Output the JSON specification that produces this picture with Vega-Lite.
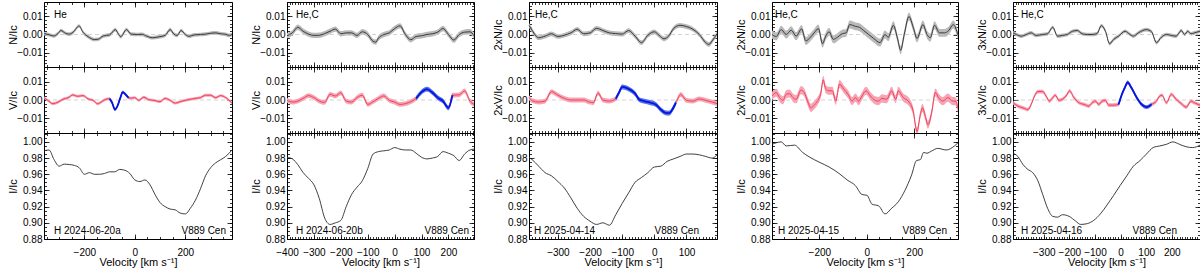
{
"$schema": "https://vega.github.io/schema/vega-lite/v6.json",
"padding": {"left": 6, "top": 1, "right": 0, "bottom": 0},
"background": "white",
"datasets": {
"L": [{"p":1,"t":"He","d":"H 2024-06-20a","s":"V889 Cen"},{"p":2,"t":"He,C","d":"H 2024-06-20b","s":"V889 Cen"},{"p":3,"t":"He,C","d":"H 2025-04-14","s":"V889 Cen"},{"p":4,"t":"He,C","d":"H 2025-04-15","s":"V889 Cen"},{"p":5,"t":"He,C","d":"H 2025-04-16","s":"V889 Cen"}],
"N": [
{"p":1,"v":-360,"y":0.0005,"e":0.001},{"p":1,"v":-340,"y":-0.0001,"e":0.001},{"p":1,"v":-322,"y":-0.0008,"e":0.001},{"p":1,"v":-305,"y":0.0005,"e":0.001},{"p":1,"v":-293,"y":0.0022,"e":0.001},{"p":1,"v":-275,"y":0.0007,"e":0.001},{"p":1,"v":-260,"y":0.0002,"e":0.001},{"p":1,"v":-245,"y":0.0012,"e":0.001},{"p":1,"v":-221,"y":0.0047,"e":0.001},{"p":1,"v":-205,"y":0.0012,"e":0.001},{"p":1,"v":-185,"y":-0.0012,"e":0.001},{"p":1,"v":-160,"y":-0.0028,"e":0.001},{"p":1,"v":-145,"y":-0.0026,"e":0.001},{"p":1,"v":-125,"y":-0.0008,"e":0.001},{"p":1,"v":-100,"y":-0.0002,"e":0.001},{"p":1,"v":-77,"y":0.0027,"e":0.001},{"p":1,"v":-66,"y":0.0005,"e":0.001},{"p":1,"v":-56,"y":-0.0012,"e":0.001},{"p":1,"v":-33,"y":0.0027,"e":0.001},{"p":1,"v":-15,"y":0.0002,"e":0.001},{"p":1,"v":10,"y":0,"e":0.001},{"p":1,"v":30,"y":0.0001,"e":0.001},{"p":1,"v":45,"y":-0.0008,"e":0.001},{"p":1,"v":70,"y":-0.0018,"e":0.001},{"p":1,"v":95,"y":-0.0013,"e":0.001},{"p":1,"v":120,"y":-0.0005,"e":0.001},{"p":1,"v":140,"y":0.0027,"e":0.001},{"p":1,"v":155,"y":0.0002,"e":0.001},{"p":1,"v":168,"y":-0.0005,"e":0.001},{"p":1,"v":183,"y":0.0022,"e":0.001},{"p":1,"v":200,"y":0,"e":0.001},{"p":1,"v":215,"y":-0.001,"e":0.001},{"p":1,"v":235,"y":-0.0002,"e":0.001},{"p":1,"v":260,"y":0,"e":0.001},{"p":1,"v":280,"y":0.0002,"e":0.001},{"p":1,"v":300,"y":0.0007,"e":0.001},{"p":1,"v":320,"y":0.0009,"e":0.001},{"p":1,"v":340,"y":0.0004,"e":0.001},{"p":1,"v":360,"y":0.0001,"e":0.001},{"p":1,"v":375,"y":-0.0005,"e":0.001},{"p":1,"v":385,"y":0,"e":0.001},
{"p":2,"v":-400,"y":-0.0007,"e":0.0015},{"p":2,"v":-380,"y":0.0009,"e":0.0015},{"p":2,"v":-360,"y":0.004,"e":0.0015},{"p":2,"v":-340,"y":0.0018,"e":0.0015},{"p":2,"v":-320,"y":0.0002,"e":0.0015},{"p":2,"v":-300,"y":-0.0005,"e":0.0015},{"p":2,"v":-280,"y":-0.0004,"e":0.0015},{"p":2,"v":-260,"y":0.0005,"e":0.0015},{"p":2,"v":-240,"y":0.0018,"e":0.0015},{"p":2,"v":-220,"y":0.003,"e":0.0015},{"p":2,"v":-200,"y":0.0004,"e":0.0015},{"p":2,"v":-180,"y":0.0009,"e":0.0015},{"p":2,"v":-160,"y":0.0009,"e":0.0015},{"p":2,"v":-140,"y":-0.0005,"e":0.0015},{"p":2,"v":-120,"y":0.0015,"e":0.0015},{"p":2,"v":-100,"y":0,"e":0.0015},{"p":2,"v":-80,"y":-0.0038,"e":0.0015},{"p":2,"v":-70,"y":-0.0042,"e":0.0015},{"p":2,"v":-60,"y":-0.002,"e":0.0015},{"p":2,"v":-40,"y":0,"e":0.0015},{"p":2,"v":-20,"y":0.0009,"e":0.0015},{"p":2,"v":0,"y":0.0033,"e":0.0015},{"p":2,"v":20,"y":0.0048,"e":0.0015},{"p":2,"v":40,"y":0,"e":0.0015},{"p":2,"v":60,"y":-0.0029,"e":0.0015},{"p":2,"v":80,"y":-0.0011,"e":0.0015},{"p":2,"v":100,"y":-0.0007,"e":0.0015},{"p":2,"v":120,"y":0,"e":0.0015},{"p":2,"v":140,"y":0.0004,"e":0.0015},{"p":2,"v":160,"y":0.0013,"e":0.0015},{"p":2,"v":180,"y":0.0033,"e":0.0015},{"p":2,"v":200,"y":0,"e":0.0015},{"p":2,"v":220,"y":-0.0031,"e":0.0015},{"p":2,"v":240,"y":0,"e":0.0015},{"p":2,"v":260,"y":0.0013,"e":0.0015},{"p":2,"v":280,"y":0.0015,"e":0.0015},{"p":2,"v":295,"y":-0.0007,"e":0.0015},
{"p":3,"v":-390,"y":0.0051,"e":0.0013},{"p":3,"v":-380,"y":0.0022,"e":0.0013},{"p":3,"v":-360,"y":-0.0018,"e":0.0013},{"p":3,"v":-340,"y":-0.0009,"e":0.0013},{"p":3,"v":-320,"y":0.0004,"e":0.0013},{"p":3,"v":-300,"y":-0.0011,"e":0.0013},{"p":3,"v":-280,"y":-0.0004,"e":0.0013},{"p":3,"v":-260,"y":0.0009,"e":0.0013},{"p":3,"v":-240,"y":0.0029,"e":0.0013},{"p":3,"v":-220,"y":0.0004,"e":0.0013},{"p":3,"v":-200,"y":0.0009,"e":0.0013},{"p":3,"v":-180,"y":0.0034,"e":0.0013},{"p":3,"v":-160,"y":0.0022,"e":0.0013},{"p":3,"v":-140,"y":0.0009,"e":0.0013},{"p":3,"v":-120,"y":0.0005,"e":0.0013},{"p":3,"v":-100,"y":0.0002,"e":0.0013},{"p":3,"v":-80,"y":0.0022,"e":0.0013},{"p":3,"v":-60,"y":-0.0009,"e":0.0013},{"p":3,"v":-40,"y":-0.0045,"e":0.0013},{"p":3,"v":-20,"y":-0.0004,"e":0.0013},{"p":3,"v":0,"y":0.0015,"e":0.0013},{"p":3,"v":15,"y":-0.0005,"e":0.0013},{"p":3,"v":30,"y":-0.0024,"e":0.0013},{"p":3,"v":45,"y":-0.0008,"e":0.0013},{"p":3,"v":60,"y":0.0033,"e":0.0013},{"p":3,"v":80,"y":0.0051,"e":0.0013},{"p":3,"v":100,"y":0.0044,"e":0.0013},{"p":3,"v":120,"y":0.0029,"e":0.0013},{"p":3,"v":140,"y":0,"e":0.0013},{"p":3,"v":160,"y":-0.0045,"e":0.0013},{"p":3,"v":170,"y":-0.0055,"e":0.0013},{"p":3,"v":180,"y":-0.0035,"e":0.0013},{"p":3,"v":195,"y":0.0004,"e":0.0013},
{"p":4,"v":-400,"y":0,"e":0.0022},{"p":4,"v":-382,"y":-0.0011,"e":0.0022},{"p":4,"v":-361,"y":0.0027,"e":0.0022},{"p":4,"v":-340,"y":0,"e":0.0022},{"p":4,"v":-319,"y":0.0024,"e":0.0022},{"p":4,"v":-298,"y":-0.0009,"e":0.0022},{"p":4,"v":-275,"y":0.0031,"e":0.0022},{"p":4,"v":-257,"y":-0.0036,"e":0.0022},{"p":4,"v":-240,"y":-0.0018,"e":0.0022},{"p":4,"v":-222,"y":0.0009,"e":0.0022},{"p":4,"v":-204,"y":0.0033,"e":0.0022},{"p":4,"v":-187,"y":-0.0051,"e":0.0022},{"p":4,"v":-173,"y":-0.0009,"e":0.0022},{"p":4,"v":-159,"y":0.0015,"e":0.0022},{"p":4,"v":-141,"y":-0.0027,"e":0.0022},{"p":4,"v":-124,"y":-0.0015,"e":0.0022},{"p":4,"v":-104,"y":0.0004,"e":0.0022},{"p":4,"v":-87,"y":0.0009,"e":0.0022},{"p":4,"v":-72,"y":0.0055,"e":0.0022},{"p":4,"v":-48,"y":0.0045,"e":0.0022},{"p":4,"v":-31,"y":0.004,"e":0.0022},{"p":4,"v":-13,"y":0.0022,"e":0.0022},{"p":4,"v":8,"y":0,"e":0.0022},{"p":4,"v":29,"y":-0.0022,"e":0.0022},{"p":4,"v":56,"y":-0.0045,"e":0.0022},{"p":4,"v":77,"y":0,"e":0.0022},{"p":4,"v":91,"y":-0.0015,"e":0.0022},{"p":4,"v":112,"y":0.0051,"e":0.0022},{"p":4,"v":129,"y":-0.0018,"e":0.0022},{"p":4,"v":143,"y":-0.0087,"e":0.0022},{"p":4,"v":158,"y":0,"e":0.0022},{"p":4,"v":178,"y":0.01,"e":0.0022},{"p":4,"v":196,"y":0.004,"e":0.0022},{"p":4,"v":212,"y":-0.0022,"e":0.0022},{"p":4,"v":237,"y":0.0055,"e":0.0022},{"p":4,"v":254,"y":0,"e":0.0022},{"p":4,"v":268,"y":-0.0018,"e":0.0022},{"p":4,"v":286,"y":0.0051,"e":0.0022},{"p":4,"v":307,"y":0.0009,"e":0.0022},{"p":4,"v":328,"y":0.0009,"e":0.0022},{"p":4,"v":346,"y":0.0022,"e":0.0022},{"p":4,"v":365,"y":0.0055,"e":0.0022},{"p":4,"v":385,"y":-0.0004,"e":0.0022},
{"p":5,"v":-420,"y":0.0009,"e":0.001},{"p":5,"v":-407,"y":0,"e":0.001},{"p":5,"v":-388,"y":-0.0009,"e":0.001},{"p":5,"v":-368,"y":0,"e":0.001},{"p":5,"v":-349,"y":0.0009,"e":0.001},{"p":5,"v":-330,"y":-0.0005,"e":0.001},{"p":5,"v":-304,"y":0,"e":0.001},{"p":5,"v":-285,"y":0.0004,"e":0.001},{"p":5,"v":-265,"y":0.004,"e":0.001},{"p":5,"v":-246,"y":-0.0009,"e":0.001},{"p":5,"v":-227,"y":-0.0005,"e":0.001},{"p":5,"v":-208,"y":0,"e":0.001},{"p":5,"v":-188,"y":0.0018,"e":0.001},{"p":5,"v":-169,"y":0.0022,"e":0.001},{"p":5,"v":-150,"y":0.0004,"e":0.001},{"p":5,"v":-130,"y":0,"e":0.001},{"p":5,"v":-111,"y":0,"e":0.001},{"p":5,"v":-92,"y":0.0005,"e":0.001},{"p":5,"v":-75,"y":0.0049,"e":0.001},{"p":5,"v":-59,"y":0.0018,"e":0.001},{"p":5,"v":-43,"y":-0.0051,"e":0.001},{"p":5,"v":-27,"y":-0.0027,"e":0.001},{"p":5,"v":-8,"y":-0.0009,"e":0.001},{"p":5,"v":18,"y":0.0018,"e":0.001},{"p":5,"v":37,"y":0,"e":0.001},{"p":5,"v":50,"y":-0.0009,"e":0.001},{"p":5,"v":69,"y":0.0009,"e":0.001},{"p":5,"v":101,"y":0.0027,"e":0.001},{"p":5,"v":121,"y":0.0015,"e":0.001},{"p":5,"v":140,"y":-0.0045,"e":0.001},{"p":5,"v":159,"y":-0.0015,"e":0.001},{"p":5,"v":179,"y":0,"e":0.001},{"p":5,"v":198,"y":-0.0005,"e":0.001},{"p":5,"v":217,"y":-0.0009,"e":0.001},{"p":5,"v":237,"y":0.0022,"e":0.001},{"p":5,"v":250,"y":0,"e":0.001},{"p":5,"v":262,"y":0.0018,"e":0.001},{"p":5,"v":275,"y":0.0004,"e":0.001},{"p":5,"v":288,"y":0.0009,"e":0.001},{"p":5,"v":310,"y":0.0018,"e":0.001}
],
"V": [
{"p":1,"v":-360,"y":0.0013,"e":0.0008},{"p":1,"v":-345,"y":-0.0002,"e":0.0008},{"p":1,"v":-325,"y":-0.002,"e":0.0008},{"p":1,"v":-305,"y":-0.0012,"e":0.0008},{"p":1,"v":-285,"y":0.0004,"e":0.0008},{"p":1,"v":-265,"y":0.0012,"e":0.0008},{"p":1,"v":-245,"y":0.0028,"e":0.0008},{"p":1,"v":-228,"y":0.002,"e":0.0008},{"p":1,"v":-205,"y":0.0024,"e":0.0008},{"p":1,"v":-185,"y":0.0006,"e":0.0008},{"p":1,"v":-165,"y":-0.0002,"e":0.0008},{"p":1,"v":-148,"y":-0.002,"e":0.0008},{"p":1,"v":-130,"y":-0.0008,"e":0.0008},{"p":1,"v":-115,"y":0.0004,"e":0.0008},{"p":1,"v":-100,"y":0.0007,"e":0.0008,"b":1},{"p":1,"v":-90,"y":-0.0015,"e":0.0008,"b":1},{"p":1,"v":-79,"y":-0.0052,"e":0.0008,"b":1},{"p":1,"v":-68,"y":-0.003,"e":0.0008,"b":1},{"p":1,"v":-58,"y":0.001,"e":0.0008,"b":1},{"p":1,"v":-48,"y":0.0043,"e":0.0008,"b":1},{"p":1,"v":-38,"y":0.0032,"e":0.0008,"b":1},{"p":1,"v":-25,"y":0.0012,"e":0.0008,"b":1},{"p":1,"v":-15,"y":0.001,"e":0.0008},{"p":1,"v":0,"y":0.0013,"e":0.0008},{"p":1,"v":15,"y":-0.0002,"e":0.0008},{"p":1,"v":35,"y":0.0015,"e":0.0008},{"p":1,"v":55,"y":0.0002,"e":0.0008},{"p":1,"v":75,"y":-0.0002,"e":0.0008},{"p":1,"v":100,"y":-0.0009,"e":0.0008},{"p":1,"v":120,"y":0.0009,"e":0.0008},{"p":1,"v":140,"y":-0.0002,"e":0.0008},{"p":1,"v":160,"y":-0.0017,"e":0.0008},{"p":1,"v":180,"y":-0.0009,"e":0.0008},{"p":1,"v":200,"y":-0.0002,"e":0.0008},{"p":1,"v":220,"y":0.0004,"e":0.0008},{"p":1,"v":240,"y":0.0009,"e":0.0008},{"p":1,"v":260,"y":0.0013,"e":0.0008},{"p":1,"v":280,"y":0.0026,"e":0.0008},{"p":1,"v":300,"y":0.0026,"e":0.0008},{"p":1,"v":320,"y":0.0013,"e":0.0008},{"p":1,"v":340,"y":0.0024,"e":0.0008},{"p":1,"v":360,"y":0.0013,"e":0.0008},{"p":1,"v":385,"y":-0.0017,"e":0.0008},
{"p":2,"v":-400,"y":-0.0002,"e":0.0013},{"p":2,"v":-380,"y":-0.0011,"e":0.0013},{"p":2,"v":-360,"y":-0.0006,"e":0.0013},{"p":2,"v":-340,"y":0.0009,"e":0.0013},{"p":2,"v":-320,"y":0.0024,"e":0.0013},{"p":2,"v":-300,"y":0.0013,"e":0.0013},{"p":2,"v":-280,"y":-0.0006,"e":0.0013},{"p":2,"v":-260,"y":-0.0013,"e":0.0013},{"p":2,"v":-240,"y":0.0031,"e":0.0013},{"p":2,"v":-220,"y":0.0022,"e":0.0013},{"p":2,"v":-200,"y":0.0039,"e":0.0013},{"p":2,"v":-180,"y":-0.0006,"e":0.0013},{"p":2,"v":-160,"y":-0.0011,"e":0.0013},{"p":2,"v":-140,"y":0.0013,"e":0.0013},{"p":2,"v":-120,"y":0.0026,"e":0.0013},{"p":2,"v":-100,"y":-0.0024,"e":0.0013},{"p":2,"v":-80,"y":-0.0009,"e":0.0013},{"p":2,"v":-60,"y":0.0009,"e":0.0013},{"p":2,"v":-40,"y":0.0022,"e":0.0013},{"p":2,"v":-20,"y":-0.0002,"e":0.0013},{"p":2,"v":0,"y":-0.0011,"e":0.0013},{"p":2,"v":20,"y":-0.0024,"e":0.0013},{"p":2,"v":40,"y":-0.002,"e":0.0013},{"p":2,"v":60,"y":-0.0009,"e":0.0013},{"p":2,"v":80,"y":0.0009,"e":0.0013,"b":1},{"p":2,"v":100,"y":0.0043,"e":0.0013,"b":1},{"p":2,"v":120,"y":0.0059,"e":0.0013,"b":1},{"p":2,"v":140,"y":0.0041,"e":0.0013,"b":1},{"p":2,"v":160,"y":0.0013,"e":0.0013,"b":1},{"p":2,"v":180,"y":-0.0006,"e":0.0013,"b":1},{"p":2,"v":200,"y":-0.0043,"e":0.0013,"b":1},{"p":2,"v":215,"y":0.0026,"e":0.0013,"b":1},{"p":2,"v":240,"y":0.0028,"e":0.0013},{"p":2,"v":260,"y":0.005,"e":0.0013},{"p":2,"v":280,"y":-0.0006,"e":0.0013},{"p":2,"v":295,"y":-0.0024,"e":0.0013},
{"p":3,"v":-390,"y":0.0013,"e":0.0013},{"p":3,"v":-380,"y":-0.0004,"e":0.0013},{"p":3,"v":-360,"y":-0.0011,"e":0.0013},{"p":3,"v":-340,"y":-0.0006,"e":0.0013},{"p":3,"v":-320,"y":0.0046,"e":0.0013},{"p":3,"v":-300,"y":0.0026,"e":0.0013},{"p":3,"v":-280,"y":0.0009,"e":0.0013},{"p":3,"v":-260,"y":0,"e":0.0013},{"p":3,"v":-240,"y":0,"e":0.0013},{"p":3,"v":-220,"y":0,"e":0.0013},{"p":3,"v":-200,"y":-0.0012,"e":0.0013},{"p":3,"v":-190,"y":-0.0015,"e":0.0013},{"p":3,"v":-175,"y":0.0038,"e":0.0013},{"p":3,"v":-160,"y":0,"e":0.0013},{"p":3,"v":-140,"y":-0.0006,"e":0.0013},{"p":3,"v":-120,"y":0.0007,"e":0.0013,"b":1},{"p":3,"v":-110,"y":0.004,"e":0.0013,"b":1},{"p":3,"v":-100,"y":0.0072,"e":0.0013,"b":1},{"p":3,"v":-85,"y":0.0065,"e":0.0013,"b":1},{"p":3,"v":-70,"y":0.005,"e":0.0013,"b":1},{"p":3,"v":-58,"y":0.0031,"e":0.0013,"b":1},{"p":3,"v":-48,"y":0.0004,"e":0.0013,"b":1},{"p":3,"v":-32,"y":-0.0006,"e":0.0013,"b":1},{"p":3,"v":-11,"y":-0.0015,"e":0.0013,"b":1},{"p":3,"v":4,"y":-0.0024,"e":0.0013,"b":1},{"p":3,"v":20,"y":-0.0052,"e":0.0013,"b":1},{"p":3,"v":35,"y":-0.007,"e":0.0013,"b":1},{"p":3,"v":46,"y":-0.0072,"e":0.0013,"b":1},{"p":3,"v":56,"y":-0.0052,"e":0.0013,"b":1},{"p":3,"v":67,"y":-0.0015,"e":0.0013,"b":1},{"p":3,"v":82,"y":0.003,"e":0.0013},{"p":3,"v":100,"y":-0.0002,"e":0.0013},{"p":3,"v":120,"y":-0.0006,"e":0.0013},{"p":3,"v":140,"y":0.0006,"e":0.0013},{"p":3,"v":160,"y":-0.0002,"e":0.0013},{"p":3,"v":180,"y":-0.0011,"e":0.0013},{"p":3,"v":195,"y":-0.002,"e":0.0013},
{"p":4,"v":-400,"y":0.0022,"e":0.0022},{"p":4,"v":-382,"y":0.004,"e":0.0022},{"p":4,"v":-368,"y":0.0013,"e":0.0022},{"p":4,"v":-354,"y":-0.0002,"e":0.0022},{"p":4,"v":-340,"y":0.0031,"e":0.0022},{"p":4,"v":-326,"y":0.0035,"e":0.0022},{"p":4,"v":-312,"y":0.0013,"e":0.0022},{"p":4,"v":-298,"y":0.0004,"e":0.0022},{"p":4,"v":-278,"y":0.0054,"e":0.0022},{"p":4,"v":-264,"y":0.0041,"e":0.0022},{"p":4,"v":-250,"y":-0.0006,"e":0.0022},{"p":4,"v":-236,"y":-0.0043,"e":0.0022},{"p":4,"v":-222,"y":-0.0028,"e":0.0022},{"p":4,"v":-208,"y":-0.0006,"e":0.0022},{"p":4,"v":-194,"y":0.0035,"e":0.0022},{"p":4,"v":-184,"y":0.011,"e":0.0022},{"p":4,"v":-173,"y":0.0059,"e":0.0022},{"p":4,"v":-159,"y":0.005,"e":0.0022},{"p":4,"v":-145,"y":0.005,"e":0.0022},{"p":4,"v":-131,"y":-0.0006,"e":0.0022},{"p":4,"v":-115,"y":0.0087,"e":0.0022},{"p":4,"v":-97,"y":0.0059,"e":0.0022},{"p":4,"v":-79,"y":0.0031,"e":0.0022},{"p":4,"v":-62,"y":-0.0006,"e":0.0022},{"p":4,"v":-48,"y":0.0013,"e":0.0022},{"p":4,"v":-34,"y":-0.0006,"e":0.0022},{"p":4,"v":-20,"y":0.0022,"e":0.0022},{"p":4,"v":-3,"y":0.005,"e":0.0022},{"p":4,"v":15,"y":0.0022,"e":0.0022},{"p":4,"v":36,"y":-0.0002,"e":0.0022},{"p":4,"v":50,"y":-0.0006,"e":0.0022},{"p":4,"v":63,"y":0.0009,"e":0.0022},{"p":4,"v":84,"y":0.0004,"e":0.0022},{"p":4,"v":105,"y":0.005,"e":0.0022},{"p":4,"v":122,"y":0.0004,"e":0.0022},{"p":4,"v":133,"y":0.005,"e":0.0022},{"p":4,"v":154,"y":0.0013,"e":0.0022},{"p":4,"v":175,"y":-0.0006,"e":0.0022},{"p":4,"v":196,"y":-0.0061,"e":0.0022},{"p":4,"v":212,"y":-0.0172,"e":0.0022},{"p":4,"v":226,"y":-0.008,"e":0.0022},{"p":4,"v":235,"y":-0.0043,"e":0.0022},{"p":4,"v":247,"y":-0.0089,"e":0.0022},{"p":4,"v":258,"y":-0.0135,"e":0.0022},{"p":4,"v":275,"y":-0.0061,"e":0.0022},{"p":4,"v":289,"y":0.0041,"e":0.0022},{"p":4,"v":303,"y":0.0013,"e":0.0022},{"p":4,"v":321,"y":-0.0006,"e":0.0022},{"p":4,"v":342,"y":0.0013,"e":0.0022},{"p":4,"v":363,"y":-0.0006,"e":0.0022},{"p":4,"v":374,"y":-0.0006,"e":0.0022},{"p":4,"v":385,"y":-0.0046,"e":0.0022},
{"p":5,"v":-420,"y":-0.0015,"e":0.001},{"p":5,"v":-401,"y":-0.0033,"e":0.001},{"p":5,"v":-381,"y":-0.0043,"e":0.001},{"p":5,"v":-362,"y":-0.0052,"e":0.001},{"p":5,"v":-349,"y":-0.0024,"e":0.001},{"p":5,"v":-336,"y":0.0022,"e":0.001},{"p":5,"v":-323,"y":0.0046,"e":0.001},{"p":5,"v":-304,"y":0.0046,"e":0.001},{"p":5,"v":-291,"y":0.0022,"e":0.001},{"p":5,"v":-278,"y":-0.0006,"e":0.001},{"p":5,"v":-265,"y":0.0013,"e":0.001},{"p":5,"v":-255,"y":0.0026,"e":0.001},{"p":5,"v":-240,"y":-0.0002,"e":0.001},{"p":5,"v":-227,"y":0.0004,"e":0.001},{"p":5,"v":-211,"y":0.0026,"e":0.001},{"p":5,"v":-199,"y":0.005,"e":0.001},{"p":5,"v":-182,"y":0.0013,"e":0.001},{"p":5,"v":-162,"y":-0.0015,"e":0.001},{"p":5,"v":-143,"y":-0.0024,"e":0.001},{"p":5,"v":-124,"y":-0.0033,"e":0.001},{"p":5,"v":-111,"y":-0.0015,"e":0.001},{"p":5,"v":-98,"y":-0.0006,"e":0.001},{"p":5,"v":-85,"y":-0.0024,"e":0.001},{"p":5,"v":-72,"y":-0.0006,"e":0.001},{"p":5,"v":-59,"y":-0.0002,"e":0.001},{"p":5,"v":-47,"y":-0.0028,"e":0.001},{"p":5,"v":-27,"y":-0.0028,"e":0.001},{"p":5,"v":-8,"y":-0.0024,"e":0.001,"b":1},{"p":5,"v":5,"y":0.0031,"e":0.001,"b":1},{"p":5,"v":18,"y":0.0072,"e":0.001,"b":1},{"p":5,"v":27,"y":0.0096,"e":0.001,"b":1},{"p":5,"v":43,"y":0.0065,"e":0.001,"b":1},{"p":5,"v":63,"y":0.0013,"e":0.001,"b":1},{"p":5,"v":82,"y":-0.0024,"e":0.001,"b":1},{"p":5,"v":101,"y":-0.0039,"e":0.001,"b":1},{"p":5,"v":121,"y":-0.0024,"e":0.001,"b":1},{"p":5,"v":140,"y":-0.0006,"e":0.001},{"p":5,"v":153,"y":0.0022,"e":0.001},{"p":5,"v":162,"y":0.0026,"e":0.001},{"p":5,"v":179,"y":-0.0015,"e":0.001},{"p":5,"v":198,"y":0.0031,"e":0.001},{"p":5,"v":217,"y":0.0004,"e":0.001},{"p":5,"v":237,"y":-0.002,"e":0.001},{"p":5,"v":256,"y":-0.0039,"e":0.001},{"p":5,"v":275,"y":-0.0006,"e":0.001},{"p":5,"v":288,"y":-0.0015,"e":0.001},{"p":5,"v":310,"y":-0.0028,"e":0.001}
],
"I": [
{"p":1,"v":-360,"y":0.989},{"p":1,"v":-340,"y":0.99},{"p":1,"v":-320,"y":0.978},{"p":1,"v":-300,"y":0.97},{"p":1,"v":-280,"y":0.9725},{"p":1,"v":-260,"y":0.972},{"p":1,"v":-240,"y":0.971},{"p":1,"v":-220,"y":0.968},{"p":1,"v":-200,"y":0.96},{"p":1,"v":-180,"y":0.962},{"p":1,"v":-160,"y":0.96},{"p":1,"v":-140,"y":0.96},{"p":1,"v":-120,"y":0.961},{"p":1,"v":-100,"y":0.963},{"p":1,"v":-80,"y":0.963},{"p":1,"v":-60,"y":0.966},{"p":1,"v":-40,"y":0.965},{"p":1,"v":-20,"y":0.961},{"p":1,"v":0,"y":0.953},{"p":1,"v":20,"y":0.951},{"p":1,"v":40,"y":0.953},{"p":1,"v":60,"y":0.947},{"p":1,"v":80,"y":0.935},{"p":1,"v":100,"y":0.925},{"p":1,"v":120,"y":0.92},{"p":1,"v":140,"y":0.917},{"p":1,"v":160,"y":0.916},{"p":1,"v":180,"y":0.912},{"p":1,"v":200,"y":0.911},{"p":1,"v":220,"y":0.918},{"p":1,"v":240,"y":0.928},{"p":1,"v":260,"y":0.942},{"p":1,"v":280,"y":0.958},{"p":1,"v":300,"y":0.968},{"p":1,"v":320,"y":0.974},{"p":1,"v":340,"y":0.978},{"p":1,"v":360,"y":0.982},{"p":1,"v":385,"y":0.99},
{"p":2,"v":-400,"y":0.981},{"p":2,"v":-380,"y":0.979},{"p":2,"v":-360,"y":0.972},{"p":2,"v":-340,"y":0.962},{"p":2,"v":-320,"y":0.955},{"p":2,"v":-300,"y":0.947},{"p":2,"v":-280,"y":0.93},{"p":2,"v":-260,"y":0.906},{"p":2,"v":-240,"y":0.898},{"p":2,"v":-220,"y":0.9},{"p":2,"v":-200,"y":0.903},{"p":2,"v":-180,"y":0.92},{"p":2,"v":-160,"y":0.935},{"p":2,"v":-140,"y":0.944},{"p":2,"v":-120,"y":0.952},{"p":2,"v":-100,"y":0.967},{"p":2,"v":-80,"y":0.985},{"p":2,"v":-60,"y":0.988},{"p":2,"v":-40,"y":0.989},{"p":2,"v":-20,"y":0.99},{"p":2,"v":0,"y":0.993},{"p":2,"v":20,"y":0.991},{"p":2,"v":40,"y":0.99},{"p":2,"v":60,"y":0.99},{"p":2,"v":80,"y":0.986},{"p":2,"v":100,"y":0.981},{"p":2,"v":120,"y":0.979},{"p":2,"v":140,"y":0.98},{"p":2,"v":160,"y":0.982},{"p":2,"v":180,"y":0.988},{"p":2,"v":200,"y":0.986},{"p":2,"v":220,"y":0.983},{"p":2,"v":240,"y":0.977},{"p":2,"v":260,"y":0.985},{"p":2,"v":280,"y":0.99},{"p":2,"v":295,"y":0.991},
{"p":3,"v":-390,"y":0.981},{"p":3,"v":-380,"y":0.978},{"p":3,"v":-360,"y":0.97},{"p":3,"v":-340,"y":0.962},{"p":3,"v":-320,"y":0.958},{"p":3,"v":-300,"y":0.951},{"p":3,"v":-280,"y":0.943},{"p":3,"v":-260,"y":0.931},{"p":3,"v":-240,"y":0.918},{"p":3,"v":-220,"y":0.908},{"p":3,"v":-200,"y":0.902},{"p":3,"v":-180,"y":0.898},{"p":3,"v":-160,"y":0.9},{"p":3,"v":-140,"y":0.897},{"p":3,"v":-120,"y":0.91},{"p":3,"v":-100,"y":0.924},{"p":3,"v":-80,"y":0.937},{"p":3,"v":-60,"y":0.95},{"p":3,"v":-40,"y":0.956},{"p":3,"v":-20,"y":0.962},{"p":3,"v":0,"y":0.969},{"p":3,"v":20,"y":0.97},{"p":3,"v":40,"y":0.976},{"p":3,"v":60,"y":0.979},{"p":3,"v":80,"y":0.982},{"p":3,"v":100,"y":0.985},{"p":3,"v":120,"y":0.985},{"p":3,"v":140,"y":0.984},{"p":3,"v":160,"y":0.982},{"p":3,"v":180,"y":0.98},{"p":3,"v":195,"y":0.984},
{"p":4,"v":-400,"y":0.997},{"p":4,"v":-361,"y":1.0},{"p":4,"v":-340,"y":0.995},{"p":4,"v":-305,"y":0.996},{"p":4,"v":-271,"y":0.987},{"p":4,"v":-243,"y":0.9815},{"p":4,"v":-201,"y":0.975},{"p":4,"v":-159,"y":0.969},{"p":4,"v":-117,"y":0.961},{"p":4,"v":-83,"y":0.953},{"p":4,"v":-48,"y":0.946},{"p":4,"v":-20,"y":0.935},{"p":4,"v":1,"y":0.934},{"p":4,"v":22,"y":0.923},{"p":4,"v":50,"y":0.921},{"p":4,"v":77,"y":0.911},{"p":4,"v":105,"y":0.918},{"p":4,"v":133,"y":0.926},{"p":4,"v":161,"y":0.94},{"p":4,"v":189,"y":0.959},{"p":4,"v":210,"y":0.977},{"p":4,"v":226,"y":0.978},{"p":4,"v":240,"y":0.987},{"p":4,"v":254,"y":0.986},{"p":4,"v":272,"y":0.9885},{"p":4,"v":300,"y":0.992},{"p":4,"v":335,"y":0.99},{"p":4,"v":370,"y":0.995},{"p":4,"v":385,"y":0.999},
{"p":5,"v":-420,"y":0.986},{"p":5,"v":-401,"y":0.982},{"p":5,"v":-381,"y":0.972},{"p":5,"v":-362,"y":0.966},{"p":5,"v":-343,"y":0.962},{"p":5,"v":-323,"y":0.952},{"p":5,"v":-304,"y":0.935},{"p":5,"v":-285,"y":0.918},{"p":5,"v":-265,"y":0.908},{"p":5,"v":-246,"y":0.907},{"p":5,"v":-227,"y":0.91},{"p":5,"v":-201,"y":0.908},{"p":5,"v":-175,"y":0.902},{"p":5,"v":-156,"y":0.898},{"p":5,"v":-130,"y":0.899},{"p":5,"v":-105,"y":0.903},{"p":5,"v":-79,"y":0.911},{"p":5,"v":-53,"y":0.922},{"p":5,"v":-27,"y":0.934},{"p":5,"v":-2,"y":0.946},{"p":5,"v":24,"y":0.958},{"p":5,"v":50,"y":0.97},{"p":5,"v":76,"y":0.977},{"p":5,"v":101,"y":0.985},{"p":5,"v":127,"y":0.993},{"p":5,"v":153,"y":0.995},{"p":5,"v":179,"y":0.997},{"p":5,"v":204,"y":1.0},{"p":5,"v":230,"y":0.997},{"p":5,"v":256,"y":0.994},{"p":5,"v":282,"y":0.993},{"p":5,"v":310,"y":0.996}
]
},
"columns": 5,
"spacing": {"row": 0, "column": 55},
"bounds": "flush",
"align": "each",
"resolve": {"scale": {"x": "independent", "y": "independent"}, "axis": {"x": "independent", "y": "independent"}},
"concat": [
{"width":188,"height":65,"resolve":{"axis":{"x":"independent","y":"independent"}},"layer":[
{"data":{"name":"N"},"transform":[{"filter":"datum.p==1"}],"mark":{"type":"errorband","color":"#b9b9b9","opacity":1,"band":{"opacity":1},"interpolate":"monotone"},"encoding":{"x":{"field":"v","type":"quantitative","scale":{"domain":[-360,385],"nice":false},"axis":{"orient":"bottom","values":[-200,0,200],"labels":false,"title":null}},"y":{"field":"y","type":"quantitative","scale":{"domain":[-0.018,0.018],"nice":false},"axis":{"orient":"left","values":[-0.01,0,0.01],"format":".2f","title":"N/Ic"}},"yError":{"field":"e"}}},
{"data":{"values":[{}]},"mark":{"type":"rule","color":"#c8c8c8","strokeDash":[4,3],"strokeWidth":0.8},"encoding":{"y":{"datum":0,"type":"quantitative","scale":{"domain":[-0.018,0.018],"nice":false},"axis":null}}},
{"data":{"name":"N"},"transform":[{"filter":"datum.p==1"}],"mark":{"type":"line","color":"#3a3a3a","strokeWidth":1,"interpolate":"monotone"},"encoding":{"x":{"field":"v","type":"quantitative","scale":{"domain":[-360,385],"nice":false},"axis":{"orient":"top","values":[-200,0,200],"title":null}},"y":{"field":"y","type":"quantitative","scale":{"domain":[-0.018,0.018],"nice":false},"axis":{"orient":"right","values":[-0.01,0,0.01],"title":null}}}},
{"data":{"name":"N"},"transform":[{"filter":"datum.p==1"}],"mark":{"type":"line","opacity":0},"encoding":{"x":{"field":"v","type":"quantitative","scale":{"domain":[-360,385],"nice":false},"axis":{"orient":"bottom","tickCount":15,"labels":false,"title":null,"tickSize":-2.5}},"y":{"field":"y","type":"quantitative","scale":{"domain":[-0.018,0.018],"nice":false},"axis":{"orient":"left","tickCount":18,"labels":false,"title":null,"tickSize":-2.5}}}},
{"data":{"name":"N"},"transform":[{"filter":"datum.p==1"}],"mark":{"type":"line","opacity":0},"encoding":{"x":{"field":"v","type":"quantitative","scale":{"domain":[-360,385],"nice":false},"axis":{"orient":"top","tickCount":15,"title":null,"tickSize":-2.5}},"y":{"field":"y","type":"quantitative","scale":{"domain":[-0.018,0.018],"nice":false},"axis":{"orient":"right","tickCount":18,"title":null,"tickSize":-2.5}}}},
{"data":{"name":"L"},"transform":[{"filter":"datum.p==1"}],"mark":{"type":"text","align":"left","baseline":"middle","fontSize":10,"dx":10},"encoding":{"x":{"datum":-360,"type":"quantitative","scale":{"domain":[-360,385],"nice":false},"axis":null},"y":{"datum":0.011,"type":"quantitative","scale":{"domain":[-0.018,0.018],"nice":false},"axis":null},"text":{"field":"t"}}}
]},
{"width":187,"height":65,"resolve":{"axis":{"x":"independent","y":"independent"}},"layer":[
{"data":{"name":"N"},"transform":[{"filter":"datum.p==2"}],"mark":{"type":"errorband","color":"#b9b9b9","opacity":1,"band":{"opacity":1},"interpolate":"monotone"},"encoding":{"x":{"field":"v","type":"quantitative","scale":{"domain":[-400,295],"nice":false},"axis":{"orient":"bottom","values":[-400,-300,-200,-100,0,100,200],"labels":false,"title":null}},"y":{"field":"y","type":"quantitative","scale":{"domain":[-0.018,0.018],"nice":false},"axis":{"orient":"left","values":[-0.01,0,0.01],"format":".2f","title":"N/Ic"}},"yError":{"field":"e"}}},
{"data":{"values":[{}]},"mark":{"type":"rule","color":"#c8c8c8","strokeDash":[4,3],"strokeWidth":0.8},"encoding":{"y":{"datum":0,"type":"quantitative","scale":{"domain":[-0.018,0.018],"nice":false},"axis":null}}},
{"data":{"name":"N"},"transform":[{"filter":"datum.p==2"}],"mark":{"type":"line","color":"#3a3a3a","strokeWidth":1,"interpolate":"monotone"},"encoding":{"x":{"field":"v","type":"quantitative","scale":{"domain":[-400,295],"nice":false},"axis":{"orient":"top","values":[-400,-300,-200,-100,0,100,200],"title":null}},"y":{"field":"y","type":"quantitative","scale":{"domain":[-0.018,0.018],"nice":false},"axis":{"orient":"right","values":[-0.01,0,0.01],"title":null}}}},
{"data":{"name":"N"},"transform":[{"filter":"datum.p==2"}],"mark":{"type":"line","opacity":0},"encoding":{"x":{"field":"v","type":"quantitative","scale":{"domain":[-400,295],"nice":false},"axis":{"orient":"bottom","tickCount":70,"labels":false,"title":null,"tickSize":-2.5}},"y":{"field":"y","type":"quantitative","scale":{"domain":[-0.018,0.018],"nice":false},"axis":{"orient":"left","tickCount":18,"labels":false,"title":null,"tickSize":-2.5}}}},
{"data":{"name":"N"},"transform":[{"filter":"datum.p==2"}],"mark":{"type":"line","opacity":0},"encoding":{"x":{"field":"v","type":"quantitative","scale":{"domain":[-400,295],"nice":false},"axis":{"orient":"top","tickCount":70,"title":null,"tickSize":-2.5}},"y":{"field":"y","type":"quantitative","scale":{"domain":[-0.018,0.018],"nice":false},"axis":{"orient":"right","tickCount":18,"title":null,"tickSize":-2.5}}}},
{"data":{"name":"L"},"transform":[{"filter":"datum.p==2"}],"mark":{"type":"text","align":"left","baseline":"middle","fontSize":10,"dx":9},"encoding":{"x":{"datum":-400,"type":"quantitative","scale":{"domain":[-400,295],"nice":false},"axis":null},"y":{"datum":0.011,"type":"quantitative","scale":{"domain":[-0.018,0.018],"nice":false},"axis":null},"text":{"field":"t"}}}
]},
{"width":188,"height":65,"resolve":{"axis":{"x":"independent","y":"independent"}},"layer":[
{"data":{"name":"N"},"transform":[{"filter":"datum.p==3"}],"mark":{"type":"errorband","color":"#b9b9b9","opacity":1,"band":{"opacity":1},"interpolate":"monotone"},"encoding":{"x":{"field":"v","type":"quantitative","scale":{"domain":[-390,195],"nice":false},"axis":{"orient":"bottom","values":[-300,-200,-100,0,100],"labels":false,"title":null}},"y":{"field":"y","type":"quantitative","scale":{"domain":[-0.018,0.018],"nice":false},"axis":{"orient":"left","values":[-0.01,0,0.01],"format":".2f","title":"2xN/Ic"}},"yError":{"field":"e"}}},
{"data":{"values":[{}]},"mark":{"type":"rule","color":"#c8c8c8","strokeDash":[4,3],"strokeWidth":0.8},"encoding":{"y":{"datum":0,"type":"quantitative","scale":{"domain":[-0.018,0.018],"nice":false},"axis":null}}},
{"data":{"name":"N"},"transform":[{"filter":"datum.p==3"}],"mark":{"type":"line","color":"#3a3a3a","strokeWidth":1,"interpolate":"monotone"},"encoding":{"x":{"field":"v","type":"quantitative","scale":{"domain":[-390,195],"nice":false},"axis":{"orient":"top","values":[-300,-200,-100,0,100],"title":null}},"y":{"field":"y","type":"quantitative","scale":{"domain":[-0.018,0.018],"nice":false},"axis":{"orient":"right","values":[-0.01,0,0.01],"title":null}}}},
{"data":{"name":"N"},"transform":[{"filter":"datum.p==3"}],"mark":{"type":"line","opacity":0},"encoding":{"x":{"field":"v","type":"quantitative","scale":{"domain":[-390,195],"nice":false},"axis":{"orient":"bottom","tickCount":70,"labels":false,"title":null,"tickSize":-2.5}},"y":{"field":"y","type":"quantitative","scale":{"domain":[-0.018,0.018],"nice":false},"axis":{"orient":"left","tickCount":18,"labels":false,"title":null,"tickSize":-2.5}}}},
{"data":{"name":"N"},"transform":[{"filter":"datum.p==3"}],"mark":{"type":"line","opacity":0},"encoding":{"x":{"field":"v","type":"quantitative","scale":{"domain":[-390,195],"nice":false},"axis":{"orient":"top","tickCount":70,"title":null,"tickSize":-2.5}},"y":{"field":"y","type":"quantitative","scale":{"domain":[-0.018,0.018],"nice":false},"axis":{"orient":"right","tickCount":18,"title":null,"tickSize":-2.5}}}},
{"data":{"name":"L"},"transform":[{"filter":"datum.p==3"}],"mark":{"type":"text","align":"left","baseline":"middle","fontSize":10,"dx":6},"encoding":{"x":{"datum":-390,"type":"quantitative","scale":{"domain":[-390,195],"nice":false},"axis":null},"y":{"datum":0.011,"type":"quantitative","scale":{"domain":[-0.018,0.018],"nice":false},"axis":null},"text":{"field":"t"}}}
]},
{"width":186,"height":65,"resolve":{"axis":{"x":"independent","y":"independent"}},"layer":[
{"data":{"name":"N"},"transform":[{"filter":"datum.p==4"}],"mark":{"type":"errorband","color":"#b9b9b9","opacity":1,"band":{"opacity":1},"interpolate":"monotone"},"encoding":{"x":{"field":"v","type":"quantitative","scale":{"domain":[-400,385],"nice":false},"axis":{"orient":"bottom","values":[-200,0,200],"labels":false,"title":null}},"y":{"field":"y","type":"quantitative","scale":{"domain":[-0.018,0.018],"nice":false},"axis":{"orient":"left","values":[-0.01,0,0.01],"format":".2f","title":"2xN/Ic"}},"yError":{"field":"e"}}},
{"data":{"values":[{}]},"mark":{"type":"rule","color":"#c8c8c8","strokeDash":[4,3],"strokeWidth":0.8},"encoding":{"y":{"datum":0,"type":"quantitative","scale":{"domain":[-0.018,0.018],"nice":false},"axis":null}}},
{"data":{"name":"N"},"transform":[{"filter":"datum.p==4"}],"mark":{"type":"line","color":"#3a3a3a","strokeWidth":1,"interpolate":"monotone"},"encoding":{"x":{"field":"v","type":"quantitative","scale":{"domain":[-400,385],"nice":false},"axis":{"orient":"top","values":[-200,0,200],"title":null}},"y":{"field":"y","type":"quantitative","scale":{"domain":[-0.018,0.018],"nice":false},"axis":{"orient":"right","values":[-0.01,0,0.01],"title":null}}}},
{"data":{"name":"N"},"transform":[{"filter":"datum.p==4"}],"mark":{"type":"line","opacity":0},"encoding":{"x":{"field":"v","type":"quantitative","scale":{"domain":[-400,385],"nice":false},"axis":{"orient":"bottom","tickCount":15,"labels":false,"title":null,"tickSize":-2.5}},"y":{"field":"y","type":"quantitative","scale":{"domain":[-0.018,0.018],"nice":false},"axis":{"orient":"left","tickCount":18,"labels":false,"title":null,"tickSize":-2.5}}}},
{"data":{"name":"N"},"transform":[{"filter":"datum.p==4"}],"mark":{"type":"line","opacity":0},"encoding":{"x":{"field":"v","type":"quantitative","scale":{"domain":[-400,385],"nice":false},"axis":{"orient":"top","tickCount":15,"title":null,"tickSize":-2.5}},"y":{"field":"y","type":"quantitative","scale":{"domain":[-0.018,0.018],"nice":false},"axis":{"orient":"right","tickCount":18,"title":null,"tickSize":-2.5}}}},
{"data":{"name":"L"},"transform":[{"filter":"datum.p==4"}],"mark":{"type":"text","align":"left","baseline":"middle","fontSize":10,"dx":3},"encoding":{"x":{"datum":-400,"type":"quantitative","scale":{"domain":[-400,385],"nice":false},"axis":null},"y":{"datum":0.011,"type":"quantitative","scale":{"domain":[-0.018,0.018],"nice":false},"axis":null},"text":{"field":"t"}}}
]},
{"width":187,"height":65,"resolve":{"axis":{"x":"independent","y":"independent"}},"layer":[
{"data":{"name":"N"},"transform":[{"filter":"datum.p==5"}],"mark":{"type":"errorband","color":"#b9b9b9","opacity":1,"band":{"opacity":1},"interpolate":"monotone"},"encoding":{"x":{"field":"v","type":"quantitative","scale":{"domain":[-420,310],"nice":false},"axis":{"orient":"bottom","values":[-300,-200,-100,0,100,200],"labels":false,"title":null}},"y":{"field":"y","type":"quantitative","scale":{"domain":[-0.018,0.018],"nice":false},"axis":{"orient":"left","values":[-0.01,0,0.01],"format":".2f","title":"3xN/Ic"}},"yError":{"field":"e"}}},
{"data":{"values":[{}]},"mark":{"type":"rule","color":"#c8c8c8","strokeDash":[4,3],"strokeWidth":0.8},"encoding":{"y":{"datum":0,"type":"quantitative","scale":{"domain":[-0.018,0.018],"nice":false},"axis":null}}},
{"data":{"name":"N"},"transform":[{"filter":"datum.p==5"}],"mark":{"type":"line","color":"#3a3a3a","strokeWidth":1,"interpolate":"monotone"},"encoding":{"x":{"field":"v","type":"quantitative","scale":{"domain":[-420,310],"nice":false},"axis":{"orient":"top","values":[-300,-200,-100,0,100,200],"title":null}},"y":{"field":"y","type":"quantitative","scale":{"domain":[-0.018,0.018],"nice":false},"axis":{"orient":"right","values":[-0.01,0,0.01],"title":null}}}},
{"data":{"name":"N"},"transform":[{"filter":"datum.p==5"}],"mark":{"type":"line","opacity":0},"encoding":{"x":{"field":"v","type":"quantitative","scale":{"domain":[-420,310],"nice":false},"axis":{"orient":"bottom","tickCount":70,"labels":false,"title":null,"tickSize":-2.5}},"y":{"field":"y","type":"quantitative","scale":{"domain":[-0.018,0.018],"nice":false},"axis":{"orient":"left","tickCount":18,"labels":false,"title":null,"tickSize":-2.5}}}},
{"data":{"name":"N"},"transform":[{"filter":"datum.p==5"}],"mark":{"type":"line","opacity":0},"encoding":{"x":{"field":"v","type":"quantitative","scale":{"domain":[-420,310],"nice":false},"axis":{"orient":"top","tickCount":70,"title":null,"tickSize":-2.5}},"y":{"field":"y","type":"quantitative","scale":{"domain":[-0.018,0.018],"nice":false},"axis":{"orient":"right","tickCount":18,"title":null,"tickSize":-2.5}}}},
{"data":{"name":"L"},"transform":[{"filter":"datum.p==5"}],"mark":{"type":"text","align":"left","baseline":"middle","fontSize":10,"dx":8},"encoding":{"x":{"datum":-420,"type":"quantitative","scale":{"domain":[-420,310],"nice":false},"axis":null},"y":{"datum":0.011,"type":"quantitative","scale":{"domain":[-0.018,0.018],"nice":false},"axis":null},"text":{"field":"t"}}}
]},
{"width":188,"height":66,"resolve":{"axis":{"x":"independent","y":"independent"}},"layer":[
{"data":{"values":[{}]},"mark":{"type":"rule","color":"#c8c8c8","strokeDash":[4,3],"strokeWidth":0.8},"encoding":{"y":{"datum":0,"type":"quantitative","scale":{"domain":[-0.018,0.018],"nice":false},"axis":null}}},
{"data":{"name":"V"},"transform":[{"filter":"datum.p==1"}],"mark":{"type":"errorband","color":"#f6a5b5","opacity":1,"band":{"opacity":1},"interpolate":"monotone"},"encoding":{"x":{"field":"v","type":"quantitative","scale":{"domain":[-360,385],"nice":false},"axis":{"orient":"bottom","values":[-200,0,200],"labels":false,"title":null}},"y":{"field":"y","type":"quantitative","scale":{"domain":[-0.018,0.018],"nice":false},"axis":{"orient":"left","values":[-0.01,0,0.01],"format":".2f","title":"V/Ic"}},"yError":{"field":"e"}}},
{"data":{"name":"V"},"transform":[{"filter":"datum.p==1 && datum.b==1"}],"mark":{"type":"errorband","color":"#4f78ee","opacity":1,"band":{"opacity":1},"interpolate":"monotone"},"encoding":{"x":{"field":"v","type":"quantitative","scale":{"domain":[-360,385],"nice":false},"axis":{"orient":"bottom","tickCount":15,"labels":false,"title":null,"tickSize":-2.5}},"y":{"field":"y","type":"quantitative","scale":{"domain":[-0.018,0.018],"nice":false},"axis":{"orient":"left","tickCount":18,"labels":false,"title":null,"tickSize":-2.5}},"yError":{"field":"e"}}},
{"data":{"name":"V"},"transform":[{"filter":"datum.p==1"}],"mark":{"type":"line","color":"#f2405a","strokeWidth":1,"interpolate":"monotone"},"encoding":{"x":{"field":"v","type":"quantitative","scale":{"domain":[-360,385],"nice":false},"axis":{"orient":"top","values":[-200,0,200],"title":null}},"y":{"field":"y","type":"quantitative","scale":{"domain":[-0.018,0.018],"nice":false},"axis":{"orient":"right","values":[-0.01,0,0.01],"title":null}}}},
{"data":{"name":"V"},"transform":[{"filter":"datum.p==1 && datum.b==1"}],"mark":{"type":"line","color":"#0015e6","strokeWidth":1.8,"interpolate":"monotone"},"encoding":{"x":{"field":"v","type":"quantitative","scale":{"domain":[-360,385],"nice":false},"axis":{"orient":"top","tickCount":15,"title":null,"tickSize":-2.5}},"y":{"field":"y","type":"quantitative","scale":{"domain":[-0.018,0.018],"nice":false},"axis":{"orient":"right","tickCount":18,"title":null,"tickSize":-2.5}}}}
]},
{"width":187,"height":66,"resolve":{"axis":{"x":"independent","y":"independent"}},"layer":[
{"data":{"values":[{}]},"mark":{"type":"rule","color":"#c8c8c8","strokeDash":[4,3],"strokeWidth":0.8},"encoding":{"y":{"datum":0,"type":"quantitative","scale":{"domain":[-0.018,0.018],"nice":false},"axis":null}}},
{"data":{"name":"V"},"transform":[{"filter":"datum.p==2"}],"mark":{"type":"errorband","color":"#f6a5b5","opacity":1,"band":{"opacity":1},"interpolate":"monotone"},"encoding":{"x":{"field":"v","type":"quantitative","scale":{"domain":[-400,295],"nice":false},"axis":{"orient":"bottom","values":[-400,-300,-200,-100,0,100,200],"labels":false,"title":null}},"y":{"field":"y","type":"quantitative","scale":{"domain":[-0.018,0.018],"nice":false},"axis":{"orient":"left","values":[-0.01,0,0.01],"format":".2f","title":"V/Ic"}},"yError":{"field":"e"}}},
{"data":{"name":"V"},"transform":[{"filter":"datum.p==2 && datum.b==1"}],"mark":{"type":"errorband","color":"#4f78ee","opacity":1,"band":{"opacity":1},"interpolate":"monotone"},"encoding":{"x":{"field":"v","type":"quantitative","scale":{"domain":[-400,295],"nice":false},"axis":{"orient":"bottom","tickCount":70,"labels":false,"title":null,"tickSize":-2.5}},"y":{"field":"y","type":"quantitative","scale":{"domain":[-0.018,0.018],"nice":false},"axis":{"orient":"left","tickCount":18,"labels":false,"title":null,"tickSize":-2.5}},"yError":{"field":"e"}}},
{"data":{"name":"V"},"transform":[{"filter":"datum.p==2"}],"mark":{"type":"line","color":"#f2405a","strokeWidth":1,"interpolate":"monotone"},"encoding":{"x":{"field":"v","type":"quantitative","scale":{"domain":[-400,295],"nice":false},"axis":{"orient":"top","values":[-400,-300,-200,-100,0,100,200],"title":null}},"y":{"field":"y","type":"quantitative","scale":{"domain":[-0.018,0.018],"nice":false},"axis":{"orient":"right","values":[-0.01,0,0.01],"title":null}}}},
{"data":{"name":"V"},"transform":[{"filter":"datum.p==2 && datum.b==1"}],"mark":{"type":"line","color":"#0015e6","strokeWidth":1.8,"interpolate":"monotone"},"encoding":{"x":{"field":"v","type":"quantitative","scale":{"domain":[-400,295],"nice":false},"axis":{"orient":"top","tickCount":70,"title":null,"tickSize":-2.5}},"y":{"field":"y","type":"quantitative","scale":{"domain":[-0.018,0.018],"nice":false},"axis":{"orient":"right","tickCount":18,"title":null,"tickSize":-2.5}}}}
]},
{"width":188,"height":66,"resolve":{"axis":{"x":"independent","y":"independent"}},"layer":[
{"data":{"values":[{}]},"mark":{"type":"rule","color":"#c8c8c8","strokeDash":[4,3],"strokeWidth":0.8},"encoding":{"y":{"datum":0,"type":"quantitative","scale":{"domain":[-0.018,0.018],"nice":false},"axis":null}}},
{"data":{"name":"V"},"transform":[{"filter":"datum.p==3"}],"mark":{"type":"errorband","color":"#f6a5b5","opacity":1,"band":{"opacity":1},"interpolate":"monotone"},"encoding":{"x":{"field":"v","type":"quantitative","scale":{"domain":[-390,195],"nice":false},"axis":{"orient":"bottom","values":[-300,-200,-100,0,100],"labels":false,"title":null}},"y":{"field":"y","type":"quantitative","scale":{"domain":[-0.018,0.018],"nice":false},"axis":{"orient":"left","values":[-0.01,0,0.01],"format":".2f","title":"2xV/Ic"}},"yError":{"field":"e"}}},
{"data":{"name":"V"},"transform":[{"filter":"datum.p==3 && datum.b==1"}],"mark":{"type":"errorband","color":"#4f78ee","opacity":1,"band":{"opacity":1},"interpolate":"monotone"},"encoding":{"x":{"field":"v","type":"quantitative","scale":{"domain":[-390,195],"nice":false},"axis":{"orient":"bottom","tickCount":70,"labels":false,"title":null,"tickSize":-2.5}},"y":{"field":"y","type":"quantitative","scale":{"domain":[-0.018,0.018],"nice":false},"axis":{"orient":"left","tickCount":18,"labels":false,"title":null,"tickSize":-2.5}},"yError":{"field":"e"}}},
{"data":{"name":"V"},"transform":[{"filter":"datum.p==3"}],"mark":{"type":"line","color":"#f2405a","strokeWidth":1,"interpolate":"monotone"},"encoding":{"x":{"field":"v","type":"quantitative","scale":{"domain":[-390,195],"nice":false},"axis":{"orient":"top","values":[-300,-200,-100,0,100],"title":null}},"y":{"field":"y","type":"quantitative","scale":{"domain":[-0.018,0.018],"nice":false},"axis":{"orient":"right","values":[-0.01,0,0.01],"title":null}}}},
{"data":{"name":"V"},"transform":[{"filter":"datum.p==3 && datum.b==1"}],"mark":{"type":"line","color":"#0015e6","strokeWidth":1.8,"interpolate":"monotone"},"encoding":{"x":{"field":"v","type":"quantitative","scale":{"domain":[-390,195],"nice":false},"axis":{"orient":"top","tickCount":70,"title":null,"tickSize":-2.5}},"y":{"field":"y","type":"quantitative","scale":{"domain":[-0.018,0.018],"nice":false},"axis":{"orient":"right","tickCount":18,"title":null,"tickSize":-2.5}}}}
]},
{"width":186,"height":66,"resolve":{"axis":{"x":"independent","y":"independent"}},"layer":[
{"data":{"values":[{}]},"mark":{"type":"rule","color":"#c8c8c8","strokeDash":[4,3],"strokeWidth":0.8},"encoding":{"y":{"datum":0,"type":"quantitative","scale":{"domain":[-0.018,0.018],"nice":false},"axis":null}}},
{"data":{"name":"V"},"transform":[{"filter":"datum.p==4"}],"mark":{"type":"errorband","color":"#f6a5b5","opacity":1,"band":{"opacity":1},"interpolate":"monotone","clip":true},"encoding":{"x":{"field":"v","type":"quantitative","scale":{"domain":[-400,385],"nice":false},"axis":{"orient":"bottom","values":[-200,0,200],"labels":false,"title":null}},"y":{"field":"y","type":"quantitative","scale":{"domain":[-0.018,0.018],"nice":false},"axis":{"orient":"left","values":[-0.01,0,0.01],"format":".2f","title":"2xV/Ic"}},"yError":{"field":"e"}}},
{"data":{"values":[{}]},"mark":{"type":"rule","opacity":0},"encoding":{"x":{"datum":0,"type":"quantitative","scale":{"domain":[-400,385],"nice":false},"axis":{"orient":"bottom","tickCount":15,"labels":false,"title":null,"tickSize":-2.5}},"y":{"datum":0,"type":"quantitative","scale":{"domain":[-0.018,0.018],"nice":false},"axis":{"orient":"left","tickCount":18,"labels":false,"title":null,"tickSize":-2.5}}}},
{"data":{"name":"V"},"transform":[{"filter":"datum.p==4"}],"mark":{"type":"line","color":"#f2405a","strokeWidth":1,"interpolate":"monotone","clip":true},"encoding":{"x":{"field":"v","type":"quantitative","scale":{"domain":[-400,385],"nice":false},"axis":{"orient":"top","values":[-200,0,200],"title":null}},"y":{"field":"y","type":"quantitative","scale":{"domain":[-0.018,0.018],"nice":false},"axis":{"orient":"right","values":[-0.01,0,0.01],"title":null}}}},
{"data":{"name":"V"},"transform":[{"filter":"datum.p==4"}],"mark":{"type":"line","opacity":0},"encoding":{"x":{"field":"v","type":"quantitative","scale":{"domain":[-400,385],"nice":false},"axis":{"orient":"top","tickCount":15,"title":null,"tickSize":-2.5}},"y":{"field":"y","type":"quantitative","scale":{"domain":[-0.018,0.018],"nice":false},"axis":{"orient":"right","tickCount":18,"title":null,"tickSize":-2.5}}}}
]},
{"width":187,"height":66,"resolve":{"axis":{"x":"independent","y":"independent"}},"layer":[
{"data":{"values":[{}]},"mark":{"type":"rule","color":"#c8c8c8","strokeDash":[4,3],"strokeWidth":0.8},"encoding":{"y":{"datum":0,"type":"quantitative","scale":{"domain":[-0.018,0.018],"nice":false},"axis":null}}},
{"data":{"name":"V"},"transform":[{"filter":"datum.p==5"}],"mark":{"type":"errorband","color":"#f6a5b5","opacity":1,"band":{"opacity":1},"interpolate":"monotone"},"encoding":{"x":{"field":"v","type":"quantitative","scale":{"domain":[-420,310],"nice":false},"axis":{"orient":"bottom","values":[-300,-200,-100,0,100,200],"labels":false,"title":null}},"y":{"field":"y","type":"quantitative","scale":{"domain":[-0.018,0.018],"nice":false},"axis":{"orient":"left","values":[-0.01,0,0.01],"format":".2f","title":"3xV/Ic"}},"yError":{"field":"e"}}},
{"data":{"name":"V"},"transform":[{"filter":"datum.p==5 && datum.b==1"}],"mark":{"type":"errorband","color":"#4f78ee","opacity":1,"band":{"opacity":1},"interpolate":"monotone"},"encoding":{"x":{"field":"v","type":"quantitative","scale":{"domain":[-420,310],"nice":false},"axis":{"orient":"bottom","tickCount":70,"labels":false,"title":null,"tickSize":-2.5}},"y":{"field":"y","type":"quantitative","scale":{"domain":[-0.018,0.018],"nice":false},"axis":{"orient":"left","tickCount":18,"labels":false,"title":null,"tickSize":-2.5}},"yError":{"field":"e"}}},
{"data":{"name":"V"},"transform":[{"filter":"datum.p==5"}],"mark":{"type":"line","color":"#f2405a","strokeWidth":1,"interpolate":"monotone"},"encoding":{"x":{"field":"v","type":"quantitative","scale":{"domain":[-420,310],"nice":false},"axis":{"orient":"top","values":[-300,-200,-100,0,100,200],"title":null}},"y":{"field":"y","type":"quantitative","scale":{"domain":[-0.018,0.018],"nice":false},"axis":{"orient":"right","values":[-0.01,0,0.01],"title":null}}}},
{"data":{"name":"V"},"transform":[{"filter":"datum.p==5 && datum.b==1"}],"mark":{"type":"line","color":"#0015e6","strokeWidth":1.8,"interpolate":"monotone"},"encoding":{"x":{"field":"v","type":"quantitative","scale":{"domain":[-420,310],"nice":false},"axis":{"orient":"top","tickCount":70,"title":null,"tickSize":-2.5}},"y":{"field":"y","type":"quantitative","scale":{"domain":[-0.018,0.018],"nice":false},"axis":{"orient":"right","tickCount":18,"title":null,"tickSize":-2.5}}}}
]},
{"width":188,"height":106,"resolve":{"axis":{"x":"independent","y":"independent"}},"layer":[
{"data":{"name":"I"},"transform":[{"filter":"datum.p==1"}],"mark":{"type":"line","color":"#2a2a2a","strokeWidth":0.9,"interpolate":"monotone"},"encoding":{"x":{"field":"v","type":"quantitative","scale":{"domain":[-360,385],"nice":false},"axis":{"orient":"bottom","values":[-200,0,200],"title":"Velocity [km s⁻¹]"}},"y":{"field":"y","type":"quantitative","scale":{"domain":[0.88,1.011],"nice":false},"axis":{"orient":"left","values":[0.88,0.9,0.92,0.94,0.96,0.98,1],"format":".2f","title":"I/Ic"}}}},
{"data":{"name":"I"},"transform":[{"filter":"datum.p==1"}],"mark":{"type":"line","opacity":0},"encoding":{"x":{"field":"v","type":"quantitative","scale":{"domain":[-360,385],"nice":false},"axis":{"orient":"top","values":[-200,0,200],"title":null}},"y":{"field":"y","type":"quantitative","scale":{"domain":[0.88,1.011],"nice":false},"axis":{"orient":"right","values":[0.88,0.9,0.92,0.94,0.96,0.98,1],"title":null}}}},
{"data":{"name":"I"},"transform":[{"filter":"datum.p==1"}],"mark":{"type":"line","opacity":0},"encoding":{"x":{"field":"v","type":"quantitative","scale":{"domain":[-360,385],"nice":false},"axis":{"orient":"bottom","tickCount":15,"labels":false,"title":null,"tickSize":-2.5}},"y":{"field":"y","type":"quantitative","scale":{"domain":[0.88,1.011],"nice":false},"axis":{"orient":"left","tickCount":26,"labels":false,"title":null,"tickSize":-2.5}}}},
{"data":{"name":"I"},"transform":[{"filter":"datum.p==1"}],"mark":{"type":"line","opacity":0},"encoding":{"x":{"field":"v","type":"quantitative","scale":{"domain":[-360,385],"nice":false},"axis":{"orient":"top","tickCount":15,"title":null,"tickSize":-2.5}},"y":{"field":"y","type":"quantitative","scale":{"domain":[0.88,1.011],"nice":false},"axis":{"orient":"right","tickCount":26,"title":null,"tickSize":-2.5}}}},
{"data":{"name":"L"},"transform":[{"filter":"datum.p==1"}],"mark":{"type":"text","align":"left","baseline":"middle","fontSize":10,"dx":10},"encoding":{"x":{"datum":-360,"type":"quantitative","scale":{"domain":[-360,385],"nice":false},"axis":null},"y":{"datum":0.8897,"type":"quantitative","scale":{"domain":[0.88,1.011],"nice":false},"axis":null},"text":{"field":"d"}}},
{"data":{"name":"L"},"transform":[{"filter":"datum.p==1"}],"mark":{"type":"text","align":"right","baseline":"middle","fontSize":10,"dx":-6},"encoding":{"x":{"datum":385,"type":"quantitative","scale":{"domain":[-360,385],"nice":false},"axis":null},"y":{"datum":0.8897,"type":"quantitative","scale":{"domain":[0.88,1.011],"nice":false},"axis":null},"text":{"field":"s"}}}
]},
{"width":187,"height":106,"resolve":{"axis":{"x":"independent","y":"independent"}},"layer":[
{"data":{"name":"I"},"transform":[{"filter":"datum.p==2"}],"mark":{"type":"line","color":"#2a2a2a","strokeWidth":0.9,"interpolate":"monotone"},"encoding":{"x":{"field":"v","type":"quantitative","scale":{"domain":[-400,295],"nice":false},"axis":{"orient":"bottom","values":[-400,-300,-200,-100,0,100,200],"title":"Velocity [km s⁻¹]"}},"y":{"field":"y","type":"quantitative","scale":{"domain":[0.88,1.011],"nice":false},"axis":{"orient":"left","values":[0.88,0.9,0.92,0.94,0.96,0.98,1],"format":".2f","title":"I/Ic"}}}},
{"data":{"name":"I"},"transform":[{"filter":"datum.p==2"}],"mark":{"type":"line","opacity":0},"encoding":{"x":{"field":"v","type":"quantitative","scale":{"domain":[-400,295],"nice":false},"axis":{"orient":"top","values":[-400,-300,-200,-100,0,100,200],"title":null}},"y":{"field":"y","type":"quantitative","scale":{"domain":[0.88,1.011],"nice":false},"axis":{"orient":"right","values":[0.88,0.9,0.92,0.94,0.96,0.98,1],"title":null}}}},
{"data":{"name":"I"},"transform":[{"filter":"datum.p==2"}],"mark":{"type":"line","opacity":0},"encoding":{"x":{"field":"v","type":"quantitative","scale":{"domain":[-400,295],"nice":false},"axis":{"orient":"bottom","tickCount":70,"labels":false,"title":null,"tickSize":-2.5}},"y":{"field":"y","type":"quantitative","scale":{"domain":[0.88,1.011],"nice":false},"axis":{"orient":"left","tickCount":26,"labels":false,"title":null,"tickSize":-2.5}}}},
{"data":{"name":"I"},"transform":[{"filter":"datum.p==2"}],"mark":{"type":"line","opacity":0},"encoding":{"x":{"field":"v","type":"quantitative","scale":{"domain":[-400,295],"nice":false},"axis":{"orient":"top","tickCount":70,"title":null,"tickSize":-2.5}},"y":{"field":"y","type":"quantitative","scale":{"domain":[0.88,1.011],"nice":false},"axis":{"orient":"right","tickCount":26,"title":null,"tickSize":-2.5}}}},
{"data":{"name":"L"},"transform":[{"filter":"datum.p==2"}],"mark":{"type":"text","align":"left","baseline":"middle","fontSize":10,"dx":9},"encoding":{"x":{"datum":-400,"type":"quantitative","scale":{"domain":[-400,295],"nice":false},"axis":null},"y":{"datum":0.8897,"type":"quantitative","scale":{"domain":[0.88,1.011],"nice":false},"axis":null},"text":{"field":"d"}}},
{"data":{"name":"L"},"transform":[{"filter":"datum.p==2"}],"mark":{"type":"text","align":"right","baseline":"middle","fontSize":10,"dx":-5},"encoding":{"x":{"datum":295,"type":"quantitative","scale":{"domain":[-400,295],"nice":false},"axis":null},"y":{"datum":0.8897,"type":"quantitative","scale":{"domain":[0.88,1.011],"nice":false},"axis":null},"text":{"field":"s"}}}
]},
{"width":188,"height":106,"resolve":{"axis":{"x":"independent","y":"independent"}},"layer":[
{"data":{"name":"I"},"transform":[{"filter":"datum.p==3"}],"mark":{"type":"line","color":"#2a2a2a","strokeWidth":0.9,"interpolate":"monotone"},"encoding":{"x":{"field":"v","type":"quantitative","scale":{"domain":[-390,195],"nice":false},"axis":{"orient":"bottom","values":[-300,-200,-100,0,100],"title":"Velocity [km s⁻¹]"}},"y":{"field":"y","type":"quantitative","scale":{"domain":[0.88,1.011],"nice":false},"axis":{"orient":"left","values":[0.88,0.9,0.92,0.94,0.96,0.98,1],"format":".2f","title":"I/Ic"}}}},
{"data":{"name":"I"},"transform":[{"filter":"datum.p==3"}],"mark":{"type":"line","opacity":0},"encoding":{"x":{"field":"v","type":"quantitative","scale":{"domain":[-390,195],"nice":false},"axis":{"orient":"top","values":[-300,-200,-100,0,100],"title":null}},"y":{"field":"y","type":"quantitative","scale":{"domain":[0.88,1.011],"nice":false},"axis":{"orient":"right","values":[0.88,0.9,0.92,0.94,0.96,0.98,1],"title":null}}}},
{"data":{"name":"I"},"transform":[{"filter":"datum.p==3"}],"mark":{"type":"line","opacity":0},"encoding":{"x":{"field":"v","type":"quantitative","scale":{"domain":[-390,195],"nice":false},"axis":{"orient":"bottom","tickCount":70,"labels":false,"title":null,"tickSize":-2.5}},"y":{"field":"y","type":"quantitative","scale":{"domain":[0.88,1.011],"nice":false},"axis":{"orient":"left","tickCount":26,"labels":false,"title":null,"tickSize":-2.5}}}},
{"data":{"name":"I"},"transform":[{"filter":"datum.p==3"}],"mark":{"type":"line","opacity":0},"encoding":{"x":{"field":"v","type":"quantitative","scale":{"domain":[-390,195],"nice":false},"axis":{"orient":"top","tickCount":70,"title":null,"tickSize":-2.5}},"y":{"field":"y","type":"quantitative","scale":{"domain":[0.88,1.011],"nice":false},"axis":{"orient":"right","tickCount":26,"title":null,"tickSize":-2.5}}}},
{"data":{"name":"L"},"transform":[{"filter":"datum.p==3"}],"mark":{"type":"text","align":"left","baseline":"middle","fontSize":10,"dx":5},"encoding":{"x":{"datum":-390,"type":"quantitative","scale":{"domain":[-390,195],"nice":false},"axis":null},"y":{"datum":0.8897,"type":"quantitative","scale":{"domain":[0.88,1.011],"nice":false},"axis":null},"text":{"field":"d"}}},
{"data":{"name":"L"},"transform":[{"filter":"datum.p==3"}],"mark":{"type":"text","align":"right","baseline":"middle","fontSize":10,"dx":-18},"encoding":{"x":{"datum":195,"type":"quantitative","scale":{"domain":[-390,195],"nice":false},"axis":null},"y":{"datum":0.8897,"type":"quantitative","scale":{"domain":[0.88,1.011],"nice":false},"axis":null},"text":{"field":"s"}}}
]},
{"width":186,"height":106,"resolve":{"axis":{"x":"independent","y":"independent"}},"layer":[
{"data":{"name":"I"},"transform":[{"filter":"datum.p==4"}],"mark":{"type":"line","color":"#2a2a2a","strokeWidth":0.9,"interpolate":"monotone"},"encoding":{"x":{"field":"v","type":"quantitative","scale":{"domain":[-400,385],"nice":false},"axis":{"orient":"bottom","values":[-200,0,200],"title":"Velocity [km s⁻¹]"}},"y":{"field":"y","type":"quantitative","scale":{"domain":[0.88,1.011],"nice":false},"axis":{"orient":"left","values":[0.88,0.9,0.92,0.94,0.96,0.98,1],"format":".2f","title":"I/Ic"}}}},
{"data":{"name":"I"},"transform":[{"filter":"datum.p==4"}],"mark":{"type":"line","opacity":0},"encoding":{"x":{"field":"v","type":"quantitative","scale":{"domain":[-400,385],"nice":false},"axis":{"orient":"top","values":[-200,0,200],"title":null}},"y":{"field":"y","type":"quantitative","scale":{"domain":[0.88,1.011],"nice":false},"axis":{"orient":"right","values":[0.88,0.9,0.92,0.94,0.96,0.98,1],"title":null}}}},
{"data":{"name":"I"},"transform":[{"filter":"datum.p==4"}],"mark":{"type":"line","opacity":0},"encoding":{"x":{"field":"v","type":"quantitative","scale":{"domain":[-400,385],"nice":false},"axis":{"orient":"bottom","tickCount":15,"labels":false,"title":null,"tickSize":-2.5}},"y":{"field":"y","type":"quantitative","scale":{"domain":[0.88,1.011],"nice":false},"axis":{"orient":"left","tickCount":26,"labels":false,"title":null,"tickSize":-2.5}}}},
{"data":{"name":"I"},"transform":[{"filter":"datum.p==4"}],"mark":{"type":"line","opacity":0},"encoding":{"x":{"field":"v","type":"quantitative","scale":{"domain":[-400,385],"nice":false},"axis":{"orient":"top","tickCount":15,"title":null,"tickSize":-2.5}},"y":{"field":"y","type":"quantitative","scale":{"domain":[0.88,1.011],"nice":false},"axis":{"orient":"right","tickCount":26,"title":null,"tickSize":-2.5}}}},
{"data":{"name":"L"},"transform":[{"filter":"datum.p==4"}],"mark":{"type":"text","align":"left","baseline":"middle","fontSize":10,"dx":6},"encoding":{"x":{"datum":-400,"type":"quantitative","scale":{"domain":[-400,385],"nice":false},"axis":null},"y":{"datum":0.8897,"type":"quantitative","scale":{"domain":[0.88,1.011],"nice":false},"axis":null},"text":{"field":"d"}}},
{"data":{"name":"L"},"transform":[{"filter":"datum.p==4"}],"mark":{"type":"text","align":"right","baseline":"middle","fontSize":10,"dx":-11},"encoding":{"x":{"datum":385,"type":"quantitative","scale":{"domain":[-400,385],"nice":false},"axis":null},"y":{"datum":0.8897,"type":"quantitative","scale":{"domain":[0.88,1.011],"nice":false},"axis":null},"text":{"field":"s"}}}
]},
{"width":187,"height":106,"resolve":{"axis":{"x":"independent","y":"independent"}},"layer":[
{"data":{"name":"I"},"transform":[{"filter":"datum.p==5"}],"mark":{"type":"line","color":"#2a2a2a","strokeWidth":0.9,"interpolate":"monotone"},"encoding":{"x":{"field":"v","type":"quantitative","scale":{"domain":[-420,310],"nice":false},"axis":{"orient":"bottom","values":[-300,-200,-100,0,100,200],"title":"Velocity [km s⁻¹]"}},"y":{"field":"y","type":"quantitative","scale":{"domain":[0.88,1.011],"nice":false},"axis":{"orient":"left","values":[0.88,0.9,0.92,0.94,0.96,0.98,1],"format":".2f","title":"I/Ic"}}}},
{"data":{"name":"I"},"transform":[{"filter":"datum.p==5"}],"mark":{"type":"line","opacity":0},"encoding":{"x":{"field":"v","type":"quantitative","scale":{"domain":[-420,310],"nice":false},"axis":{"orient":"top","values":[-300,-200,-100,0,100,200],"title":null}},"y":{"field":"y","type":"quantitative","scale":{"domain":[0.88,1.011],"nice":false},"axis":{"orient":"right","values":[0.88,0.9,0.92,0.94,0.96,0.98,1],"title":null}}}},
{"data":{"name":"I"},"transform":[{"filter":"datum.p==5"}],"mark":{"type":"line","opacity":0},"encoding":{"x":{"field":"v","type":"quantitative","scale":{"domain":[-420,310],"nice":false},"axis":{"orient":"bottom","tickCount":70,"labels":false,"title":null,"tickSize":-2.5}},"y":{"field":"y","type":"quantitative","scale":{"domain":[0.88,1.011],"nice":false},"axis":{"orient":"left","tickCount":26,"labels":false,"title":null,"tickSize":-2.5}}}},
{"data":{"name":"I"},"transform":[{"filter":"datum.p==5"}],"mark":{"type":"line","opacity":0},"encoding":{"x":{"field":"v","type":"quantitative","scale":{"domain":[-420,310],"nice":false},"axis":{"orient":"top","tickCount":70,"title":null,"tickSize":-2.5}},"y":{"field":"y","type":"quantitative","scale":{"domain":[0.88,1.011],"nice":false},"axis":{"orient":"right","tickCount":26,"title":null,"tickSize":-2.5}}}},
{"data":{"name":"L"},"transform":[{"filter":"datum.p==5"}],"mark":{"type":"text","align":"left","baseline":"middle","fontSize":10,"dx":8},"encoding":{"x":{"datum":-420,"type":"quantitative","scale":{"domain":[-420,310],"nice":false},"axis":null},"y":{"datum":0.8897,"type":"quantitative","scale":{"domain":[0.88,1.011],"nice":false},"axis":null},"text":{"field":"d"}}},
{"data":{"name":"L"},"transform":[{"filter":"datum.p==5"}],"mark":{"type":"text","align":"right","baseline":"middle","fontSize":10,"dx":-23},"encoding":{"x":{"datum":310,"type":"quantitative","scale":{"domain":[-420,310],"nice":false},"axis":null},"y":{"datum":0.8897,"type":"quantitative","scale":{"domain":[0.88,1.011],"nice":false},"axis":null},"text":{"field":"s"}}}
]}
],
"config": {
"font": "Liberation Sans",
"view": {"stroke": "#000000", "strokeWidth": 1},
"axis": {"grid": false, "domain": false, "tickColor": "#000000", "tickWidth": 0.8, "tickSize": -5, "labelColor": "#000000", "titleColor": "#000000", "labelFont": "Liberation Sans", "titleFont": "Liberation Sans", "labelFontSize": 10, "titleFontSize": 11, "titleFontWeight": "normal", "labelFlush": false, "labelOverlap": false, "zindex": 1},
"axisLeft": {"labelPadding": 7, "minExtent": 22, "maxExtent": 22, "titlePadding": 4},
"axisBottom": {"labelPadding": 13, "minExtent": 17, "maxExtent": 17, "titlePadding": 0.5},
"axisTop": {"labels": false},
"axisRight": {"labels": false}
}
}
